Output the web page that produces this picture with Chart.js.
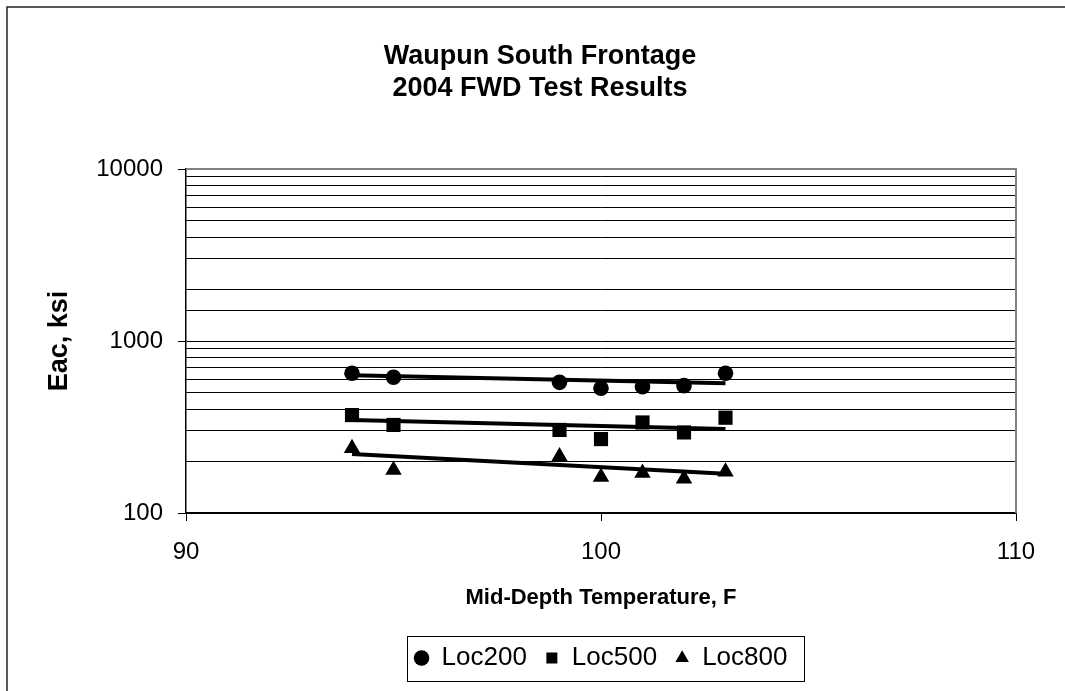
<!DOCTYPE html>
<html><head><meta charset="utf-8">
<script src="https://cdn.jsdelivr.net/npm/chart.js@4.4.1/dist/chart.umd.min.js"></script>
<style>html,body{margin:0;padding:0;background:#fff}#wrap{width:1065px;height:691px;position:relative}</style>
</head><body><div id="wrap"><canvas id="c" width="1065" height="691"></canvas></div>
<script>
const temps = [94, 95, 99, 100, 101, 102, 103];
const loc200 = [649, 615, 575, 531, 542, 550, 649];
const loc500 = [371, 325, 304, 269, 336, 294, 358];
const loc800 = [238, 178, 213, 162, 171, 158, 174];
const trendX = [94, 103];
const trend200 = [632, 568];
const trend500 = [347, 308];
const trend800 = [220, 169];
const seriesNames = ['Loc200', 'Loc500', 'Loc800'];
const xTicks = [90, 100, 110];
const yTicks = [100, 1000, 10000];
const titleLines = ['Waupun South Frontage', '2004 FWD Test Results'];
const xTitle = 'Mid-Depth Temperature, F';
const yTitle = 'Eac, ksi';

const FONT = '"Liberation Sans", Arial, sans-serif';
const pts = (xs, ys) => xs.map((x, i) => ({x: x, y: ys[i]}));

const frame = {
  id: 'frame',
  afterDraw(chart) {
    const {ctx, chartArea: a} = chart;
    ctx.save();
    ctx.strokeStyle = '#222';
    ctx.lineWidth = 1.5;
    ctx.beginPath();
    ctx.moveTo(7, 700); ctx.lineTo(7, 7); ctx.lineTo(1070, 7);
    ctx.stroke();
    ctx.strokeStyle = '#808080';
    ctx.lineWidth = 2;
    ctx.beginPath();
    ctx.moveTo(a.left, a.top); ctx.lineTo(a.right, a.top); ctx.lineTo(a.right, a.bottom);
    ctx.stroke();
    const lg = chart.legend;
    if (lg && lg.legendHitBoxes && lg.legendHitBoxes.length) {
      const hb = lg.legendHitBoxes;
      let l = Infinity, r = -Infinity, t = Infinity, b = -Infinity;
      hb.forEach(h => { l = Math.min(l, h.left); r = Math.max(r, h.left + h.width); t = Math.min(t, h.top); b = Math.max(b, h.top + h.height); });
      ctx.strokeStyle = '#000';
      ctx.lineWidth = 1;
      ctx.strokeRect(Math.round(l - 8) + 0.5, Math.round(t - 9) + 0.5, Math.round(r - l + 24), Math.round(b - t + 19));
    }
    ctx.restore();
  }
};

new Chart(document.getElementById('c'), {
  type: 'scatter',
  data: {
    datasets: [
      {label: seriesNames[0], data: pts(temps, loc200), pointStyle: 'circle', pointRadius: 7.8, backgroundColor: '#000', borderColor: '#000', borderWidth: 0, pointHoverRadius: 7.8},
      {label: seriesNames[1], data: pts(temps, loc500), pointStyle: 'rect', pointRadius: 10, backgroundColor: '#000', borderColor: '#000', borderWidth: 0, pointHoverRadius: 10},
      {label: seriesNames[2], data: pts(temps, loc800), pointStyle: 'triangle', pointRadius: 9.5, backgroundColor: '#000', borderColor: '#000', borderWidth: 0, pointHoverRadius: 9.5},
      {label: 'trend200', data: pts(trendX, trend200), showLine: true, pointRadius: 0, borderColor: '#000', borderWidth: 4, fill: false},
      {label: 'trend500', data: pts(trendX, trend500), showLine: true, pointRadius: 0, borderColor: '#000', borderWidth: 4, fill: false},
      {label: 'trend800', data: pts(trendX, trend800), showLine: true, pointRadius: 0, borderColor: '#000', borderWidth: 4, fill: false}
    ]
  },
  options: {
    responsive: false,
    animation: false,
    devicePixelRatio: 1,
    layout: {padding: {left: 15, right: 0, top: 0, bottom: 10}},
    plugins: {
      tooltip: {enabled: false},
      title: {
        display: true, text: titleLines, color: '#000',
        font: {family: FONT, size: 27, weight: 'bold', lineHeight: 1.15},
        padding: {top: 41.5, bottom: 65.4}
      },
      legend: {
        display: true, position: 'bottom', fullSize: false,
        labels: {
          usePointStyle: true, boxWidth: 14, boxHeight: 11, padding: 18, color: '#000',
          font: {family: FONT, size: 26},
          filter: item => item.datasetIndex < 3
        }
      }
    },
    scales: {
      x: {
        type: 'linear', position: 'bottom', min: 90, max: 110,
        afterBuildTicks: s => { s.ticks = xTicks.map(v => ({value: v})); },
        afterFit: s => { s.height = 114; },
        ticks: {color: '#000', font: {family: FONT, size: 24}, padding: 16.6, autoSkip: false, maxRotation: 0},
        grid: {drawOnChartArea: false, drawTicks: true, tickLength: 8, color: '#000', tickColor: '#000'},
        border: {display: true, color: '#000', width: 1.5},
        title: {display: true, text: xTitle, color: '#000', font: {family: FONT, size: 22, weight: 'bold', lineHeight: 1.2}, padding: {top: 0, bottom: 15.8}}
      },
      y: {
        type: 'logarithmic', position: 'left', min: 100, max: 10000,
        afterFit: s => { s.width = 171; },
        ticks: {
          color: '#000', font: {family: FONT, size: 24}, padding: 15, autoSkip: false,
          callback: v => yTicks.includes(v) ? String(v) : ''
        },
        grid: {
          drawOnChartArea: true, drawTicks: true, tickLength: 8, color: '#000', lineWidth: 1,
          tickColor: c => (c.tick && yTicks.includes(c.tick.value)) ? '#000' : 'rgba(0,0,0,0)'
        },
        border: {display: true, color: '#000', width: 1.5},
        title: {display: true, text: yTitle, color: '#000', font: {family: FONT, size: 27, weight: 'bold', lineHeight: 1.2}, padding: {top: 28.8, bottom: 0}}
      },
      yr: {
        type: 'linear', position: 'right', axis: 'y', display: true,
        afterFit: s => { s.width = 49; },
        ticks: {display: false}, grid: {display: false, drawOnChartArea: false}, border: {display: false}
      }
    }
  },
  plugins: [frame]
});
</script></body></html>
